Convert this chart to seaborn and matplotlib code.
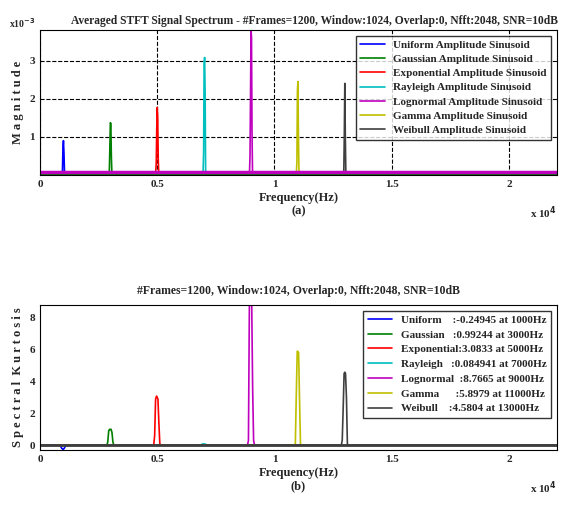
import pandas as pd
import seaborn as sns
import matplotlib.pyplot as plt

# series names, colours and centre frequencies
names = ['Uniform', 'Gaussian', 'Exponential', 'Rayleigh', 'Lognormal', 'Gamma', 'Weibull']
colors = ['#0000ff', '#007f00', '#ff0000', '#00bfbf', '#bf00bf', '#bfbf00', '#3f3f3f']
centers = [1000, 3000, 5000, 7000, 9000, 11000, 13000]

# bin offsets (Hz) around each centre and the values
offsets = [-64, -43, -21, 0, 21, 43, 64]
mag = {
    'Uniform':     [0.08, 0.1, 0.7, 0.9, 0.6, 0.1, 0.08],
    'Gaussian':    [0.08, 0.1, 0.7, 1.37, 1.35, 0.5, 0.08],
    'Exponential': [0.08, 0.3, 1.2, 1.77, 1.5, 0.4, 0.08],
    'Rayleigh':    [0.08, 0.1, 0.6, 2.9, 3.08, 2.1, 0.08],
    'Lognormal':   [0.08, 0.5, 2.1, 3.8, 3.6, 1.1, 0.08],
    'Gamma':       [0.08, 0.35, 2.2, 2.45, 1.1, 0.15, 0.08],
    'Weibull':     [0.08, 0.1, 1.05, 2.4, 1.05, 0.1, 0.08],
}
sk_offsets = [-150, -110, -70, -30, 0, 30, 70, 110, 150]
kurt = {
    'Uniform':     [0.0, -0.1, -0.2, -0.25, -0.25, -0.2, -0.1, 0.0, 0.0],
    'Gaussian':    [0.0, 0.2, 0.9, 1.0, 0.99, 1.0, 0.8, 0.2, 0.0],
    'Exponential': [0.0, 0.6, 2.9, 3.08, 3.0, 2.9, 1.4, 0.1, 0.0],
    'Rayleigh':    [0.0, 0.05, 0.08, 0.08, 0.08, 0.08, 0.05, 0.0, 0.0],
    'Lognormal':   [0.0, 0.3, 8.8, 8.8, 8.77, 8.8, 3.5, 0.3, 0.0],
    'Gamma':       [0.0, 0.1, 3.1, 5.9, 5.89, 5.8, 2.8, 0.1, 0.0],
    'Weibull':     [0.0, 0.3, 2.3, 4.5, 4.58, 4.5, 3.0, 0.1, 0.0],
}
sk_text = [':-0.24945 at 1000Hz', ':0.99244 at 3000Hz', ':3.0833 at 5000Hz',
           ':0.084941 at 7000Hz', ':8.7665 at 9000Hz', ':5.8979 at 11000Hz',
           ':4.5804 at 13000Hz']
fmax = 22050


def build(values, offs, base):
    rows = []
    for n, c in zip(names, centers):
        fs = [0] + [c + o for o in offs] + [fmax]
        vs = [base] + values[n] + [base]
        for f, v in zip(fs, vs):
            rows.append({'f': f, 'v': v, 's': n})
    return pd.DataFrame(rows)


sns.set_style('white')
plt.rcParams['font.family'] = ['Liberation Serif', 'DejaVu Serif']
plt.rcParams['font.weight'] = 'bold'
plt.rcParams['axes.labelweight'] = 'bold'
plt.rcParams['axes.titleweight'] = 'bold'

fig = plt.figure(figsize=(5.68, 5.08), dpi=100)
ax1 = fig.add_axes([40 / 568, 1 - 175 / 508, 517 / 568, 145 / 508])
ax2 = fig.add_axes([40 / 568, 1 - 450 / 508, 517 / 568, 145 / 508])

d1 = build(mag, offsets, 0.08)
d1['s'] = d1['s'] + ' Amplitude Sinusoid'
sns.lineplot(data=d1, x='f', y='v', hue='s', palette=dict(zip([n + ' Amplitude Sinusoid' for n in names], colors)),
             ax=ax1, lw=1.2, estimator=None, sort=False)
ax1.axhline(0.02, color='#007f00', lw=2.5)
ax1.axhline(0.08, color='#bf00bf', lw=2.5)
ax1.set_xlim(0, fmax)
ax1.set_ylim(0, 3.8)
ax1.set_yticks([1, 2, 3])
ax1.set_xticks([0, 5000, 10000, 15000, 20000])
ax1.set_xticklabels(['0', '0.5', '1', '1.5', '2'])
ax1.grid(True, color='k', ls='--', lw=0.8)
ax1.set_xlabel('Frequency(Hz)\n(a)', fontsize=9, labelpad=2)
ax1.set_ylabel('M a g n i t u d e', fontsize=9)
ax1.set_title('Averaged STFT Signal Spectrum - #Frames=1200, Window:1024, Overlap:0, Nfft:2048, SNR=10dB',
              fontsize=8.3, pad=4, x=0.53)
ax1.text(-0.06, 1.0, 'x10$^{-3}$', transform=ax1.transAxes, fontsize=7, va='bottom', ha='left')
ax1.text(1.0, -0.2, 'x 10$^4$', transform=ax1.transAxes, fontsize=8, ha='right', va='top')
leg = ax1.legend(loc='upper right', fontsize=8, frameon=True, fancybox=False, handlelength=2.2,
                 borderpad=0.4, labelspacing=0.4)
leg.get_frame().set_edgecolor('k')

d2 = build(kurt, sk_offsets, 0.0)
d2['s'] = [n.ljust(11) + t for n, t in zip(d2['s'], d2['s'].map(dict(zip(names, sk_text))))]
pal2 = {n.ljust(11) + t: c for n, t, c in zip(names, sk_text, colors)}
sns.lineplot(data=d2, x='f', y='v', hue='s', hue_order=list(pal2), palette=pal2,
             ax=ax2, lw=1.2, estimator=None, sort=False)
ax2.axhline(0.0, color='#3f3f3f', lw=2.0)
ax2.set_xlim(0, fmax)
ax2.set_ylim(-0.3, 8.8)
ax2.set_yticks([0, 2, 4, 6, 8])
ax2.set_xticks([0, 5000, 10000, 15000, 20000])
ax2.set_xticklabels(['0', '0.5', '1', '1.5', '2'])
ax2.set_xlabel('Frequency(Hz)\n(b)', fontsize=9, labelpad=2)
ax2.set_ylabel('S p e c t r a l  K u r t o s i s', fontsize=9)
ax2.set_title('#Frames=1200, Window:1024, Overlap:0, Nfft:2048, SNR=10dB', fontsize=8.5, pad=8)
ax2.text(1.0, -0.2, 'x 10$^4$', transform=ax2.transAxes, fontsize=8, ha='right', va='top')
leg2 = ax2.legend(loc='upper right', fontsize=8, frameon=True, fancybox=False, handlelength=2.2,
                  borderpad=0.4, labelspacing=0.45)
leg2.get_frame().set_edgecolor('k')

for ax in (ax1, ax2):
    ax.tick_params(labelsize=8, direction='in', length=3)
    for sp in ax.spines.values():
        sp.set_color('k')

fig.savefig('out.png', dpi=100)
